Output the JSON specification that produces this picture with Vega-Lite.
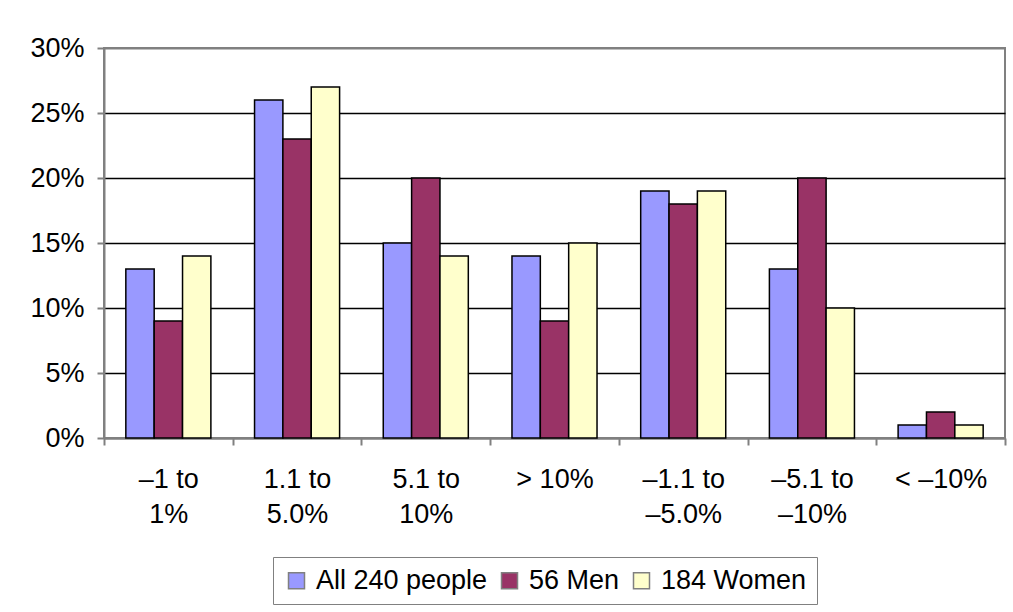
{
  "$schema": "https://vega.github.io/schema/vega-lite/v6.json",
  "width": 901,
  "height": 390,
  "autosize": {"type": "none"},
  "padding": {"left": 104, "top": 48, "right": 8, "bottom": 174},
  "background": "white",
  "config": {
    "font": "Liberation Sans",
    "view": {"stroke": "#808080", "strokeWidth": 2},
    "axis": {"labelFont": "Liberation Sans", "labelColor": "black", "labelFontSize": 27}
  },
  "data": {
    "values": [
      {"category": "–1 to 1%", "group": "All 240 people", "value": 0.13},
      {"category": "–1 to 1%", "group": "56 Men", "value": 0.09},
      {"category": "–1 to 1%", "group": "184 Women", "value": 0.14},
      {"category": "1.1 to 5.0%", "group": "All 240 people", "value": 0.26},
      {"category": "1.1 to 5.0%", "group": "56 Men", "value": 0.23},
      {"category": "1.1 to 5.0%", "group": "184 Women", "value": 0.27},
      {"category": "5.1 to 10%", "group": "All 240 people", "value": 0.15},
      {"category": "5.1 to 10%", "group": "56 Men", "value": 0.20},
      {"category": "5.1 to 10%", "group": "184 Women", "value": 0.14},
      {"category": ">  10%", "group": "All 240 people", "value": 0.14},
      {"category": ">  10%", "group": "56 Men", "value": 0.09},
      {"category": ">  10%", "group": "184 Women", "value": 0.15},
      {"category": "–1.1 to –5.0%", "group": "All 240 people", "value": 0.19},
      {"category": "–1.1 to –5.0%", "group": "56 Men", "value": 0.18},
      {"category": "–1.1 to –5.0%", "group": "184 Women", "value": 0.19},
      {"category": "–5.1 to –10%", "group": "All 240 people", "value": 0.13},
      {"category": "–5.1 to –10%", "group": "56 Men", "value": 0.20},
      {"category": "–5.1 to –10%", "group": "184 Women", "value": 0.10},
      {"category": "< –10%", "group": "All 240 people", "value": 0.01},
      {"category": "< –10%", "group": "56 Men", "value": 0.02},
      {"category": "< –10%", "group": "184 Women", "value": 0.01}
    ]
  },
  "mark": {"type": "bar", "stroke": "black", "strokeWidth": 1.5},
  "encoding": {
    "x": {
      "field": "category",
      "type": "nominal",
      "sort": ["–1 to 1%", "1.1 to 5.0%", "5.1 to 10%", ">  10%", "–1.1 to –5.0%", "–5.1 to –10%", "< –10%"],
      "scale": {"paddingInner": 0, "paddingOuter": 0},
      "axis": {
        "title": null,
        "labelAngle": 0,
        "labelExpr": "split(replace(datum.label, ' to ', ' to|'), '|')",
        "labelLineHeight": 35,
        "labelPadding": 21,
        "labelBaseline": "top",
        "tickBand": "extent",
        "tickSize": 7,
        "tickColor": "#808080",
        "tickWidth": 2,
        "domainColor": "#808080",
        "domainWidth": 2,
        "labelLimit": 200
      }
    },
    "xOffset": {
      "field": "group",
      "type": "nominal",
      "sort": ["All 240 people", "56 Men", "184 Women"],
      "scale": {"paddingInner": 0, "paddingOuter": 0.77}
    },
    "y": {
      "field": "value",
      "type": "quantitative",
      "scale": {"domain": [0, 0.3], "nice": false},
      "axis": {
        "title": null,
        "values": [0, 0.05, 0.1, 0.15, 0.2, 0.25, 0.3],
        "format": ".0%",
        "tickSize": 7,
        "tickColor": "#808080",
        "tickWidth": 2,
        "labelPadding": 13,
        "domainColor": "#808080",
        "domainWidth": 2,
        "grid": true,
        "gridColor": {"condition": {"test": "datum.value >= 0.3 || datum.value <= 0", "value": "#808080"}, "value": "black"},
        "gridWidth": {"condition": {"test": "datum.value >= 0.3 || datum.value <= 0", "value": 2}, "value": 1.5},
        "gridOpacity": 1
      }
    },
    "color": {
      "field": "group",
      "type": "nominal",
      "sort": ["All 240 people", "56 Men", "184 Women"],
      "scale": {"domain": ["All 240 people", "56 Men", "184 Women"], "range": ["#9999FF", "#993366", "#FFFFCC"]},
      "legend": {
        "title": null,
        "orient": "none",
        "direction": "horizontal",
        "legendX": 169,
        "legendY": 509,
        "strokeColor": "#808080",
        "padding": 10,
        "symbolType": "square",
        "symbolSize": 256,
        "symbolStrokeColor": "#808080",
        "symbolStrokeWidth": 1.5,
        "symbolOpacity": 1,
        "labelFont": "Liberation Sans",
        "labelFontSize": 27,
        "labelColor": "black",
        "labelLimit": 400,
        "labelOffset": 6,
        "columnPadding": 8
      }
    }
  }
}
